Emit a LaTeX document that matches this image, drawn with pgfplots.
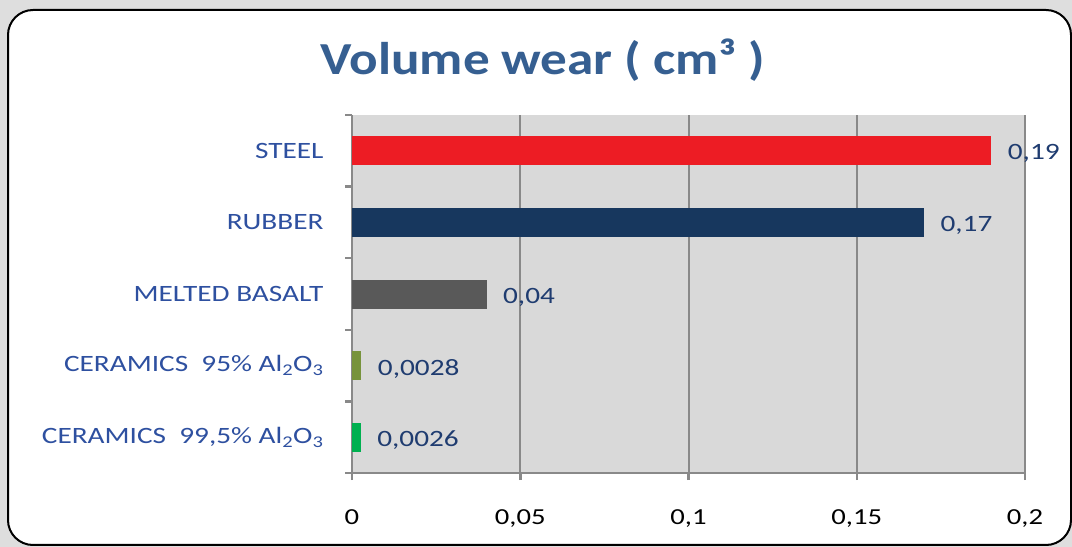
\documentclass[border=0pt]{standalone}
\usepackage{fontspec}
\setmainfont{Carlito}
\newfontfamily\widef{Carlito}[FakeStretch=1.25]
\newfontfamily\titlef{Carlito}[FakeStretch=1.16]
\usepackage{pgfplots}
\pgfplotsset{compat=1.18}
\definecolor{bgout}{RGB}{222,222,222}
\definecolor{plotbg}{RGB}{217,217,217}
\definecolor{gridc}{RGB}{137,137,137}
\definecolor{titlec}{RGB}{54,95,145}
\definecolor{catc}{RGB}{46,80,160}
\definecolor{valc}{RGB}{31,60,112}
\definecolor{steelred}{RGB}{237,28,36}
\definecolor{rubberblue}{RGB}{23,55,94}
\definecolor{basaltgray}{RGB}{89,89,89}
\definecolor{olive}{RGB}{119,147,60}
\definecolor{cgreen}{RGB}{0,176,80}
\begin{document}
\begin{tikzpicture}
\fill[bgout] (0,0) rectangle (1072bp,547bp);
\draw[black, line width=2bp, fill=white, rounded corners=25bp] (8bp,2bp) rectangle (1071bp,537bp);
\node[titlec] at (543bp,487bp) {\titlef\fontsize{46}{52}\selectfont\bfseries Volume wear ( cm³ )};
\begin{axis}[
  at={(352bp,74bp)}, anchor=south west,
  scale only axis, width=673bp, height=358bp,
  xbar, bar width=29bp,
  xmin=0, xmax=0.2, ymin=-0.5, ymax=4.5,
  axis background/.style={fill=plotbg},
  axis x line*=bottom, axis y line*=left,
  axis line style={gridc, line width=2.5bp},
  tick align=outside,
  major tick length=7bp, minor tick length=7bp,
  every tick/.style={gridc, line width=2.5bp},
  every major y tick/.style={draw=none},
  xtick={0,0.05,0.1,0.15,0.2},
  xticklabels={0,{0,05},{0,1},{0,15},{0,2}},
  xticklabel style={font=\widef\fontsize{23}{27}\selectfont, text=black, yshift=-26bp},
  ytick={0,1,2,3,4},
  yticklabels={{CERAMICS\ \ 99,5\% Al\textsubscript{2}O\textsubscript{3}},{CERAMICS\ \ 95\% Al\textsubscript{2}O\textsubscript{3}},{MELTED BASALT},{RUBBER},{STEEL}},
  yticklabel style={font=\widef\fontsize{23.5}{27}\selectfont, text=catc, xshift=-18bp},
  minor ytick={-0.5,0.5,1.5,2.5,3.5,4.5},
  xmajorgrids,
  major x grid style={gridc, line width=2bp},
  every node near coord/.append style={font=\widef\fontsize{23.5}{27}\selectfont, text=valc, anchor=west, xshift=13bp, yshift=-3bp},
  clip=false,
]
\addplot[fill=steelred, draw=none, bar shift=0pt, nodes near coords={0,19}] coordinates {(0.19,4)};
\addplot[fill=rubberblue, draw=none, bar shift=0pt, nodes near coords={0,17}] coordinates {(0.17,3)};
\addplot[fill=basaltgray, draw=none, bar shift=0pt, nodes near coords={0,04}] coordinates {(0.04,2)};
\addplot[fill=olive, draw=none, bar shift=0pt, nodes near coords={0,0028}] coordinates {(0.0028,1)};
\addplot[fill=cgreen, draw=none, bar shift=0pt, nodes near coords={0,0026}] coordinates {(0.0026,0)};
\end{axis}
\end{tikzpicture}
\end{document}
